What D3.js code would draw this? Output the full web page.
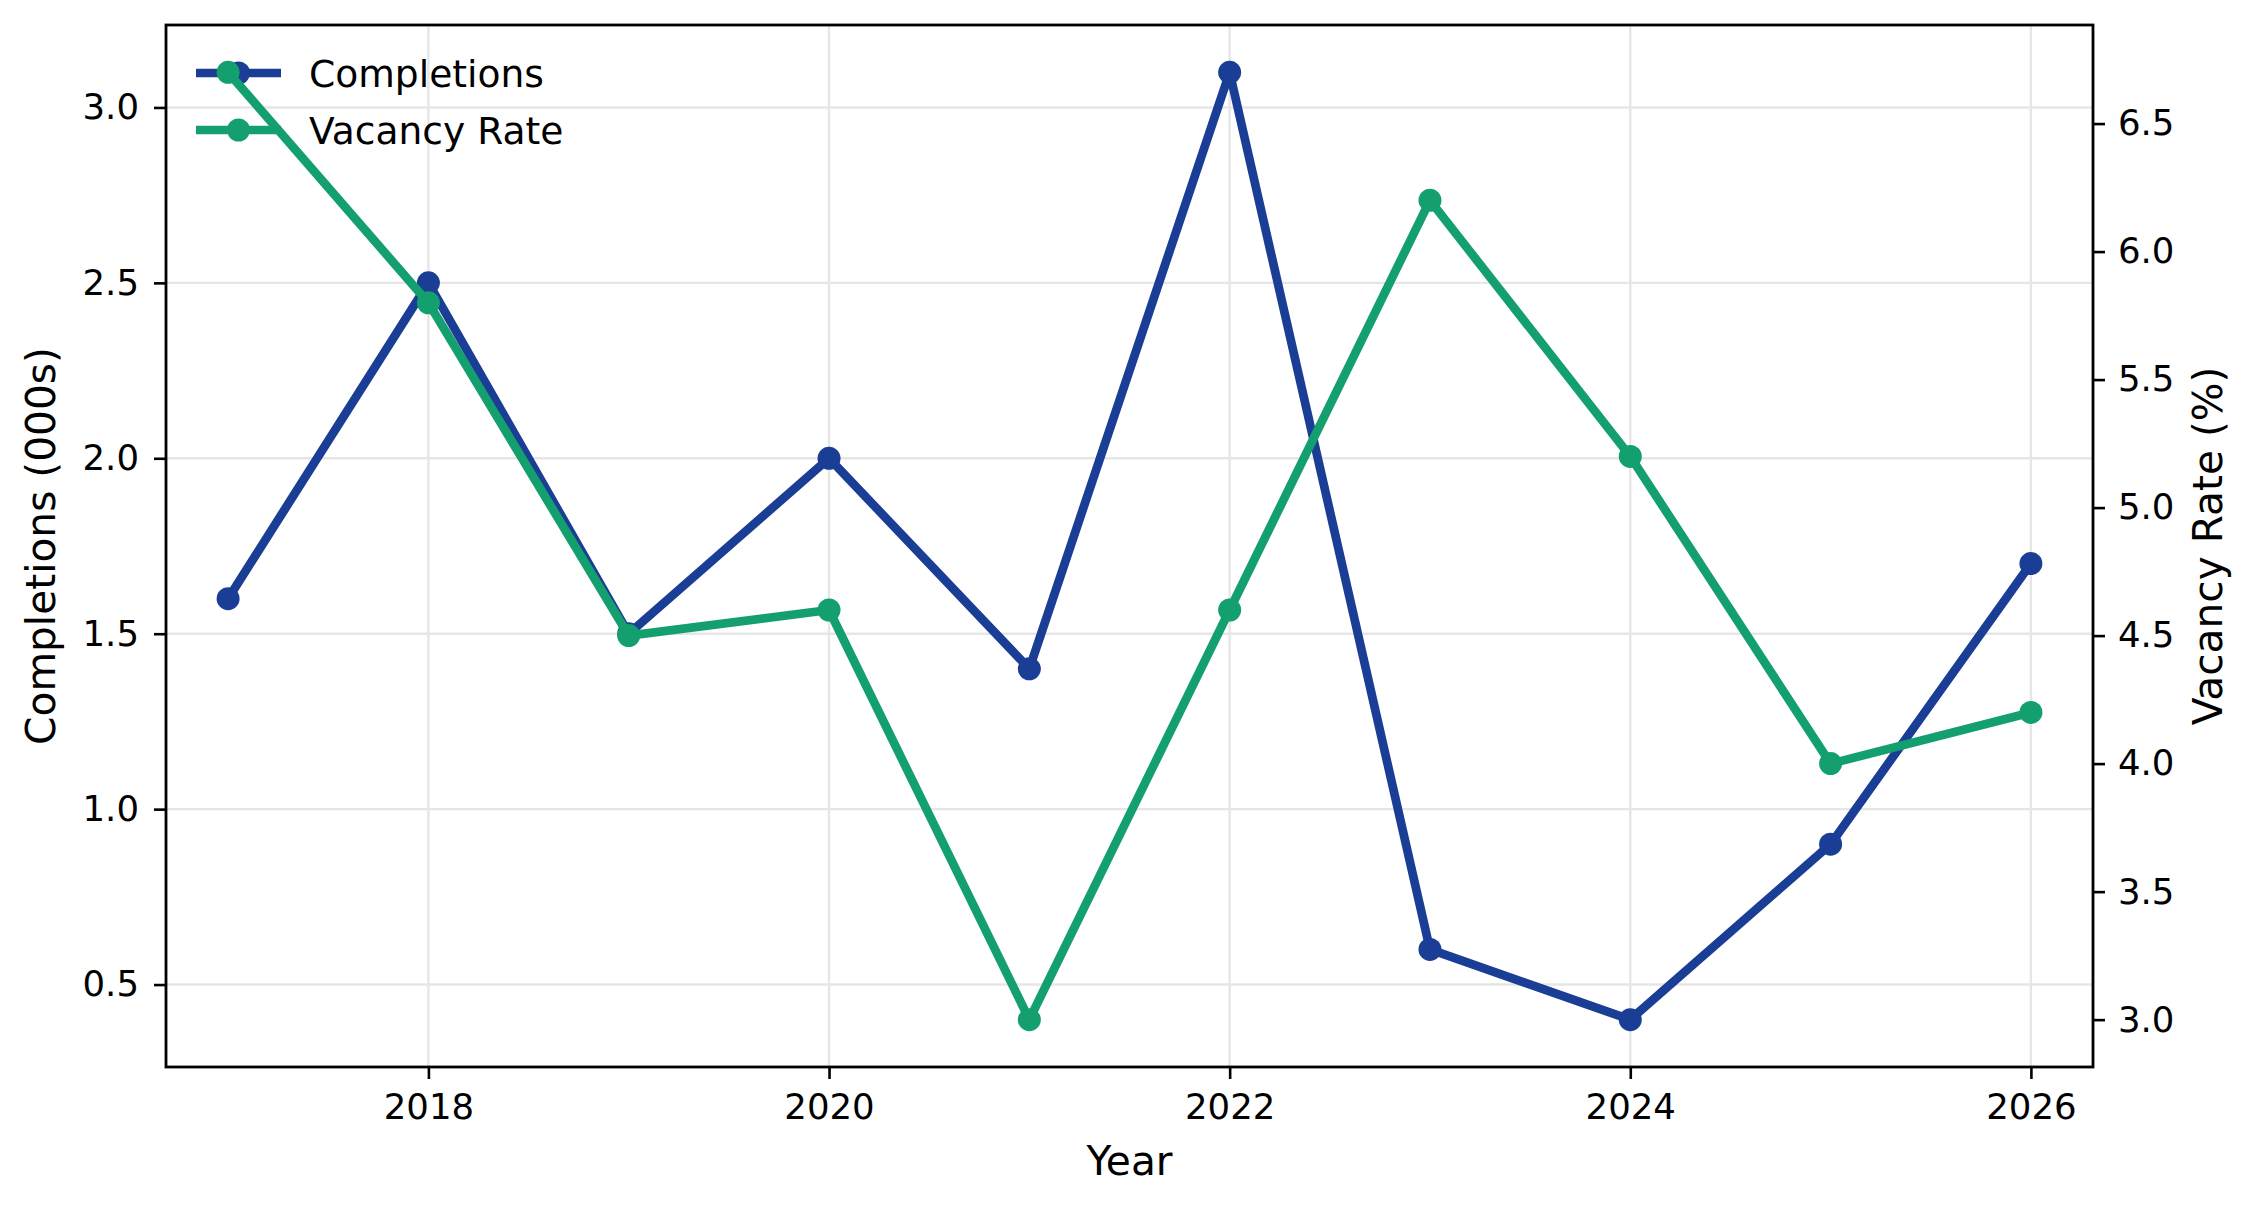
<!DOCTYPE html>
<html>
<head>
<meta charset="utf-8">
<script src="https://cdn.jsdelivr.net/npm/d3@7.9.0/dist/d3.min.js"></script>
<style>
  html, body { margin: 0; padding: 0; background: #fff; }
  svg { display: block; font-family: "DejaVu Sans", sans-serif; }
</style>
</head>
<body>
<svg id="chart" width="2258" height="1208"></svg>
<script>
const years = [2017, 2018, 2019, 2020, 2021, 2022, 2023, 2024, 2025, 2026];
const completions = [1.6, 2.5, 1.5, 2.0, 1.4, 3.1, 0.6, 0.4, 0.9, 1.7];
const vacancyRate = [6.7, 5.8, 4.5, 4.6, 3.0, 4.6, 6.2, 5.2, 4.0, 4.2];
const xTicks = [2018, 2020, 2022, 2024, 2026];
const leftTicks = [0.5, 1.0, 1.5, 2.0, 2.5, 3.0];
const rightTicks = [3.0, 3.5, 4.0, 4.5, 5.0, 5.5, 6.0, 6.5];
const seriesNames = ['Completions', 'Vacancy Rate'];

const W = 2258, H = 1208;
const margin = { top: 25, right: 165, bottom: 141, left: 166 };
const blue = '#1a3d95';
const green = '#14a06e';
const tickFont = 35.5, labelFont = 40.7, legendFont = 37.6;

const svg = d3.select('#chart');

// matplotlib-style padding around the data
const pad = (lo, hi, f) => [lo - (hi - lo) * f, hi + (hi - lo) * f];

const x = d3.scaleLinear()
  .domain([years[0] - 0.31, years[years.length - 1] + 0.31])
  .range([margin.left, W - margin.right]);
const yL = d3.scaleLinear()
  .domain(pad(d3.min(completions), d3.max(completions), 0.05))
  .range([H - margin.bottom, margin.top]);
const yR = d3.scaleLinear()
  .domain(pad(d3.min(vacancyRate), d3.max(vacancyRate), 0.05))
  .range([H - margin.bottom, margin.top]);

// grid
const grid = svg.append('g').attr('stroke', '#e6e6e6').attr('stroke-width', 2.4);
xTicks.forEach(t => {
  grid.append('line')
    .attr('x1', x(t)).attr('x2', x(t))
    .attr('y1', margin.top).attr('y2', H - margin.bottom);
});
leftTicks.forEach(t => {
  grid.append('line')
    .attr('x1', margin.left).attr('x2', W - margin.right)
    .attr('y1', yL(t)).attr('y2', yL(t));
});

// axes
function styleAxis(g) {
  g.select('.domain').remove();
  g.selectAll('.tick line').attr('stroke', '#000').attr('stroke-width', 2.6);
  g.selectAll('.tick text')
    .attr('fill', '#000')
    .style('font-size', tickFont + 'px')
    .style('font-family', '"DejaVu Sans", sans-serif');
}

svg.append('g')
  .attr('transform', `translate(0,${H - margin.bottom})`)
  .call(d3.axisBottom(x).tickValues(xTicks).tickFormat(d3.format('d')).tickSize(12).tickPadding(15))
  .call(styleAxis);

svg.append('g')
  .attr('transform', `translate(${margin.left},0)`)
  .call(d3.axisLeft(yL).tickValues(leftTicks).tickFormat(d3.format('.1f')).tickSize(12).tickPadding(15))
  .call(styleAxis);

svg.append('g')
  .attr('transform', `translate(${W - margin.right},0)`)
  .call(d3.axisRight(yR).tickValues(rightTicks).tickFormat(d3.format('.1f')).tickSize(12).tickPadding(13))
  .call(styleAxis);

// frame
svg.append('rect')
  .attr('x', margin.left).attr('y', margin.top)
  .attr('width', W - margin.left - margin.right)
  .attr('height', H - margin.top - margin.bottom)
  .attr('fill', 'none').attr('stroke', '#000').attr('stroke-width', 2.8);

// axis labels
svg.append('text')
  .attr('x', (margin.left + W - margin.right) / 2)
  .attr('y', 1175)
  .attr('text-anchor', 'middle')
  .style('font-size', labelFont + 'px')
  .text('Year');

const midY = (margin.top + H - margin.bottom) / 2;
svg.append('text')
  .attr('transform', `translate(55,${midY}) rotate(-90)`)
  .attr('text-anchor', 'middle')
  .style('font-size', labelFont + 'px')
  .text('Completions (000s)');

svg.append('text')
  .attr('transform', `translate(2222,${midY}) rotate(-90)`)
  .attr('text-anchor', 'middle')
  .style('font-size', labelFont + 'px')
  .text('Vacancy Rate (%)');

// series
function drawSeries(values, yScale, color) {
  const pts = years.map((yr, i) => [yr, values[i]]);
  const line = d3.line().x(d => x(d[0])).y(d => yScale(d[1]));
  const g = svg.append('g');
  g.append('path')
    .attr('d', line(pts))
    .attr('fill', 'none')
    .attr('stroke', color)
    .attr('stroke-width', 8.7)
    .attr('stroke-linejoin', 'round')
    .attr('stroke-linecap', 'butt');
  g.selectAll('circle')
    .data(pts)
    .join('circle')
    .attr('cx', d => x(d[0]))
    .attr('cy', d => yScale(d[1]))
    .attr('r', 11.5)
    .attr('fill', color);
}

drawSeries(completions, yL, blue);

// legend (no frame)
const legend = svg.append('g');
[blue, green].forEach((c, i) => {
  const ly = 73 + i * 57;
  legend.append('line')
    .attr('x1', 196).attr('x2', 281)
    .attr('y1', ly).attr('y2', ly)
    .attr('stroke', c).attr('stroke-width', 8.7);
  legend.append('circle')
    .attr('cx', 238.5).attr('cy', ly).attr('r', 11.5).attr('fill', c);
  legend.append('text')
    .attr('x', 309).attr('y', ly)
    .attr('dy', '0.36em')
    .style('font-size', legendFont + 'px')
    .text(seriesNames[i]);
});

drawSeries(vacancyRate, yR, green);
</script>
</body>
</html>
